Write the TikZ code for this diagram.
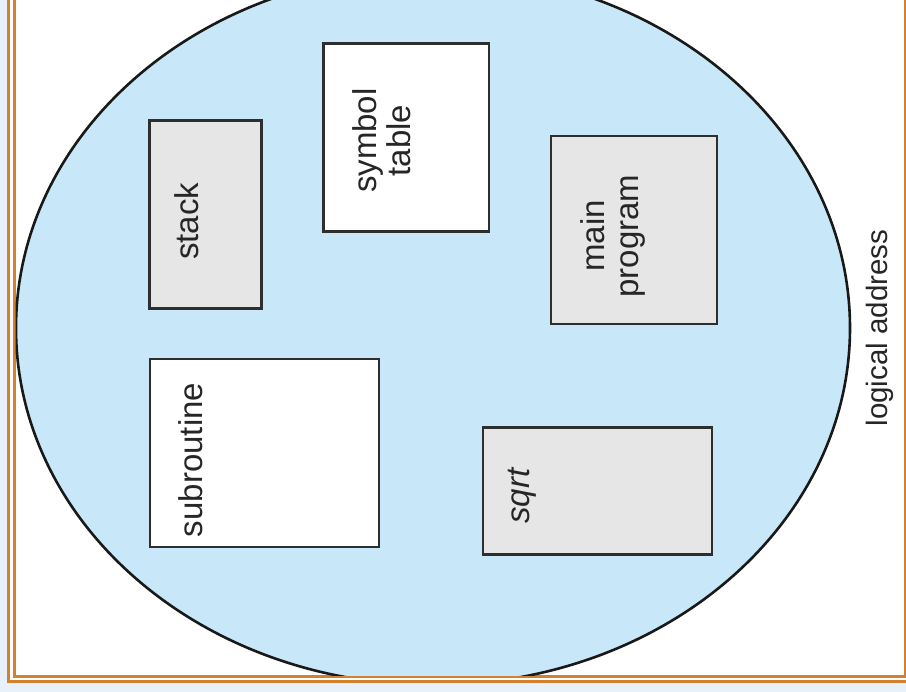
\documentclass[tikz,border=0pt]{standalone}
\usepackage{fontspec}
\setmainfont{Liberation Sans}
\usetikzlibrary{calc}
\definecolor{bgout}{HTML}{E8F1F9}
\definecolor{framec}{HTML}{D4812F}
\definecolor{ellfill}{HTML}{C8E8F9}
\definecolor{boxgray}{HTML}{E6E6E6}
\definecolor{boxline}{HTML}{2E2E2E}
\begin{document}
\begin{tikzpicture}[x=1pt,y=-1pt,
  frameline/.style={draw=framec, line width=2.6pt},
  segbox/.style={draw=boxline, line width=2.6pt, rectangle, inner sep=0pt},
  graybox/.style={segbox, fill=boxgray},
  whitebox/.style={segbox, fill=white},
  lbl/.style={rotate=90, anchor=north, inner sep=0pt, align=center,
    font=\fontsize{33}{34}\selectfont, text=black!85}]
\useasboundingbox (0,0) rectangle (906,692);
\fill[bgout] (0,0) rectangle (906,692);
\fill[white] (8.7,-5) rectangle (915,681.7);
\draw[frameline] (8.7,-5) -- (8.7,681.7) -- (915,681.7);
\draw[frameline] (14.3,-5) -- (14.3,676.5) -- (905,676.5) -- (905,-5);
\begin{scope}
  \clip (15.7,-5) rectangle (903.7,675.1);
  \draw[fill=ellfill, draw=black!90, line width=2.6pt] (433,328) ellipse [x radius=417, y radius=357];
\end{scope}
% boxes
\node[graybox, minimum width=112.4pt, minimum height=188pt] (stack) at (205.5,214.3) {};
\node[whitebox, minimum width=165.3pt, minimum height=188pt] (symtab) at (406.3,137.7) {};
\node[graybox, minimum width=166pt, minimum height=188pt] (mainprog) at (634,230) {};
\node[whitebox, minimum width=229pt, minimum height=188pt] (subr) at (264.5,453) {};
\node[graybox, minimum width=229pt, minimum height=127pt] (sqrtb) at (597.5,491.2) {};
% labels
\node[lbl] (stacklbl) at ($(stack.west)+(26,7)$) {stack};
\node[lbl] (symtablbl) at ($(symtab.west)+(30,3)$) {symbol\\table};
\node[lbl] (mainproglbl) at ($(mainprog.west)+(31,6)$) {main\\program};
\node[lbl] (subrlbl) at ($(subr.west)+(30,7)$) {subroutine};
\node[lbl] (sqrtlbl) at ($(sqrtb.west)+(26,5)$) {\itshape sqrt};
\node[rotate=90, anchor=base, inner sep=0pt, font=\fontsize{29.5}{30}\selectfont, text=black!85] (logaddr) at (887,328) {logical address};
\end{tikzpicture}
\end{document}
